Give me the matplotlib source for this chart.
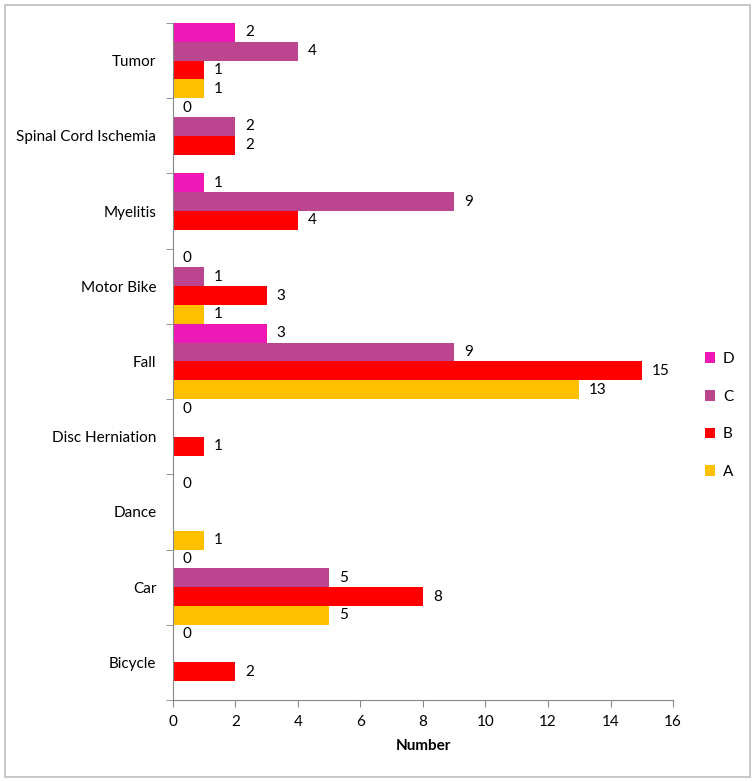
import numpy as np
import matplotlib.pyplot as plt
from matplotlib.patches import Rectangle

plt.rcParams['font.family'] = ['Lato', 'DejaVu Sans']

categories = ["Bicycle", "Car", "Dance", "Disc Herniation", "Fall",
              "Motor Bike", "Myelitis", "Spinal Cord Ischemia", "Tumor"]
nan = np.nan
A = [nan, 5, 1, nan, 13, 1, nan, nan, 1]
B = [2, 8, nan, 1, 15, 3, 4, 2, 1]
C = [nan, 5, nan, nan, 9, 1, 9, 2, 4]
D = [0, 0, 0, 0, 3, 0, 1, 0, 2]
series = [("A", A, "#FFC000"), ("B", B, "#FF0000"),
          ("C", C, "#BC4590"), ("D", D, "#EE18B6")]

fig = plt.figure(figsize=(7.55, 7.81), dpi=100)
ax = fig.add_axes([0.2291, 0.1037, 0.6623, 0.8669])
fig.patches.append(Rectangle((0.007, 0.005), 0.987, 0.989, transform=fig.transFigure,
                             fill=False, edgecolor="#BFBFBF", linewidth=1.2))

fs = 11
y = np.arange(len(categories))
h = 0.25
handles = []
for i, (name, vals, col) in enumerate(series):
    pos = y - 0.375 + i * h
    v = np.array(vals, dtype=float)
    bars = ax.barh(pos, np.nan_to_num(v), height=h, color=col, label=name)
    handles.append(bars)
    for p, val in zip(pos, v):
        if not np.isnan(val):
            ax.text(val + 0.32, p, "%d" % val, va="center", ha="left", fontsize=fs)

ax.set_xlim(0, 16)
ax.set_ylim(-0.5, len(categories) - 0.5)
ax.set_xticks(np.arange(0, 17, 2))
ax.set_yticks(y)
ax.set_yticklabels(categories, fontsize=fs)
ax.set_yticks(np.arange(-0.5, len(categories), 1), minor=True)
ax.tick_params(axis="y", which="major", length=0, pad=12)
ax.tick_params(axis="y", which="minor", length=5, color="#868686", direction="out")
ax.tick_params(axis="x", length=5, color="#868686", direction="out", labelsize=fs, pad=6)
for s in ["top", "right"]:
    ax.spines[s].set_visible(False)
for s in ["left", "bottom"]:
    ax.spines[s].set_color("#868686")
ax.set_xlabel("Number", fontsize=fs, fontweight="bold", labelpad=7)

leg = fig.legend(handles[::-1], ["D", "C", "B", "A"], loc="center left",
                 bbox_to_anchor=(0.915, 0.468), frameon=False, fontsize=fs,
                 handlelength=0.7, handleheight=0.7, labelspacing=1.55, handletextpad=0.5)

fig.savefig("out.png", dpi=100)
